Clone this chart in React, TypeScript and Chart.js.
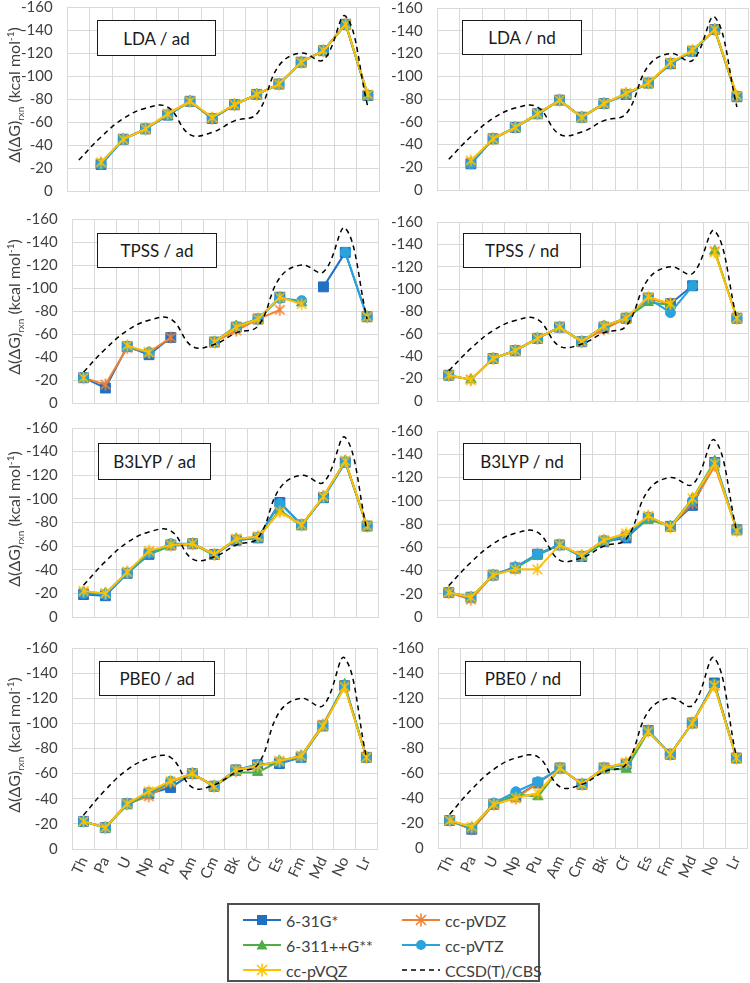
import React, { useEffect, useRef } from 'react';
import { Chart, registerables } from 'chart.js';
Chart.register(...registerables);

const FONT = 'Lato, "Open Sans", "DejaVu Sans", sans-serif';
const N = null;

const categories = ['Th', 'Pa', 'U', 'Np', 'Pu', 'Am', 'Cm', 'Bk', 'Cf', 'Es', 'Fm', 'Md', 'No', 'Lr'];
const Y_MIN = -160;
const Y_MAX = 0;
const Y_STEP = 20;

const seriesNames = ['6-31G*', 'cc-pVDZ', '6-311++G**', 'cc-pVTZ', 'cc-pVQZ'];
const refName = 'CCSD(T)/CBS';
const ccsd = [-27, -47, -63, -72, -73, -49, -51, -61, -67, -109, -120, -114, -152, -73];

// LDA / ad
const ldaAd631g = [N, -23, -45, -54, -66, -78, -63, -75, -84, -93, -112, -122, -145, -83];
const ldaAdVdz = [N, -24, -45, -54, -67, -78, -63, -75, -84, -93, -112, -122, -145, -83];
const ldaAd6311 = [N, -24, -45, -54, -66, -78, -63, -75, -84, -93, -112, -122, -145, -83];
const ldaAdVtz = [N, -23, -45, -54, -66, -78, -63, -75, -84, -93, -112, -122, -145, -83];
const ldaAdVqz = [N, -25, -45, -54, -67, -78, -64, -75, -84, -93, -112, -122, -145, -84];
// LDA / nd
const ldaNd631g = [N, -23, -45, -55, -67, -79, -64, -76, -84, -94, -111, -122, -141, -82];
const ldaNdVdz = [N, -24, -45, -55, -67, -79, -64, -76, -85, -94, -111, -122, -141, -82];
const ldaNd6311 = [N, -24, -45, -55, -66, -79, -64, -76, -84, -94, -111, -122, -141, -82];
const ldaNdVtz = [N, -23, -45, -55, -67, -79, -64, -76, -84, -94, -111, -122, -141, -82];
const ldaNdVqz = [N, -26, -45, -55, -67, -79, -64, -76, -85, -94, -112, -123, -141, -83];
// TPSS / ad
const tpssAd631g = [-22, -13, -49, -42, -57, N, -53, -66, -73, -92, N, -101, -131, -75];
const tpssAdVdz = [-22, -16, -48, -44, -57, N, -53, -63, -73, -81, N, N, N, -75];
const tpssAd6311 = [-22, N, -49, -44, N, N, -53, -67, -73, -92, -87, N, N, -75];
const tpssAdVtz = [-22, N, -49, -44, N, N, -53, -66, -73, -91, -89, N, -131, -75];
const tpssAdVqz = [-22, N, -50, -44, N, N, -53, -66, -73, -92, -86, N, N, -75];
// TPSS / nd
const tpssNd631g = [-23, N, -38, -45, -56, -66, -53, -66, -74, -92, -87, -103, N, -74];
const tpssNdVdz = [-23, -19, -38, -45, -56, -66, -53, -64, -74, -92, -87, N, -134, -74];
const tpssNd6311 = [-23, -19, -38, -45, -56, -66, -53, -67, -74, -88, -86, N, -134, -74];
const tpssNdVtz = [-23, N, -38, -45, -56, -66, -53, -67, -74, -92, -79, -103, N, -74];
const tpssNdVqz = [-23, -19, -38, -45, -56, -66, -53, -67, -74, -93, -87, N, -133, -74];
// B3LYP / ad
const b3lypAd631g = [-19, -18, -37, -53, -61, -62, -53, -65, -67, -97, -78, -101, -131, -77];
const b3lypAdVdz = [-21, -20, -38, -55, -61, -62, -53, -66, -68, -90, -78, -102, -132, -77];
const b3lypAd6311 = [-21, -20, -37, -53, -60, -62, -52, -66, -67, -90, -77, -102, -132, -76];
const b3lypAdVtz = [-20, -19, -37, -54, -62, -62, -53, -65, -67, -96, -78, -101, -131, -77];
const b3lypAdVqz = [-22, -20, -38, -56, -61, -62, -53, -66, -68, -89, -78, -102, -132, -77];
// B3LYP / nd
const b3lypNd631g = [-21, -17, -36, -42, -54, -62, -52, -65, -68, -85, -78, -96, -133, -75];
const b3lypNdVdz = [-21, -15, -36, -43, -54, -62, -53, -66, -70, -86, -78, -98, -130, -75];
const b3lypNd6311 = [-21, -17, -36, -42, -53, -62, -52, -64, -70, -84, -78, -102, -134, -75];
const b3lypNdVtz = [-21, -17, -36, -43, -54, -62, -52, -66, -69, -86, -78, -100, -133, -75];
const b3lypNdVqz = [-21, -17, -36, -41, -41, -62, -53, -66, -72, -87, -77, -102, -132, -74];
// PBE0 / ad
const pbe0Ad631g = [-22, -17, -36, -44, -49, -60, -50, -63, -67, -68, -73, -98, -130, -73];
const pbe0AdVdz = [-22, -17, -36, -42, -53, -60, -50, -62, -66, -70, -74, -99, -130, -73];
const pbe0Ad6311 = [-22, -17, -35, -44, -53, -60, -50, -61, -61, -70, -74, -98, -131, -73];
const pbe0AdVtz = [-22, -17, -36, -45, -54, -60, -50, -63, -67, -69, -73, -98, -130, -73];
const pbe0AdVqz = [-22, -17, -36, -46, -54, -60, -50, -63, -66, -70, -74, -98, -129, -73];
// PBE0 / nd
const pbe0Nd631g = [-22, -15, -35, -41, -52, -64, -51, -64, -67, -94, -75, -100, -132, -72];
const pbe0NdVdz = [-22, -15, -35, -40, -52, -64, -51, -64, -68, -94, -75, -100, -130, -72];
const pbe0Nd6311 = [-22, -16, -35, -43, -41, -64, -51, -63, -63, -93, -75, -100, -131, -72];
const pbe0NdVtz = [-22, -16, -36, -45, -53, -64, -51, -64, -67, -94, -75, -100, -131, -72];
const pbe0NdVqz = [-22, -17, -35, -40, -44, -64, -51, -64, -68, -93, -75, -100, -130, -72];

const COLORS = ['#2170C4', '#F08030', '#4EAE48', '#2AA2DC', '#FFC000'];
const STYLES = ['rect', 'asterisk', 'triangle', 'circle', 'asterisk'];
const RADII = [7, 6, 6, 5, 6];

type PanelSpec = {
  title: string;
  series: (number | null)[][];
  x: number; y: number; w: number; h: number;
  box: [number, number, number, number];
  yTitle: boolean;
  xLabels: boolean;
};

const PANELS: PanelSpec[] = [
  { title: 'LDA / ad', series: [ldaAd631g, ldaAdVdz, ldaAd6311, ldaAdVtz, ldaAdVqz], x: 68, y: 7, w: 311, h: 184, box: [97, 20, 119, 36], yTitle: true, xLabels: false },
  { title: 'LDA / nd', series: [ldaNd631g, ldaNdVdz, ldaNd6311, ldaNdVtz, ldaNdVqz], x: 438, y: 8, w: 310, h: 182, box: [462, 20, 120, 35], yTitle: false, xLabels: false },
  { title: 'TPSS / ad', series: [tpssAd631g, tpssAdVdz, tpssAd6311, tpssAdVtz, tpssAdVqz], x: 73, y: 219, w: 305, h: 184, box: [97, 233, 120, 35], yTitle: true, xLabels: false },
  { title: 'TPSS / nd', series: [tpssNd631g, tpssNdVdz, tpssNd6311, tpssNdVtz, tpssNdVqz], x: 438, y: 222, w: 310, h: 179, box: [463, 233, 118, 35], yTitle: false, xLabels: false },
  { title: 'B3LYP / ad', series: [b3lypAd631g, b3lypAdVdz, b3lypAd6311, b3lypAdVtz, b3lypAdVqz], x: 73, y: 428, w: 305, h: 189, box: [98, 443, 113, 37], yTitle: true, xLabels: false },
  { title: 'B3LYP / nd', series: [b3lypNd631g, b3lypNdVdz, b3lypNd6311, b3lypNdVtz, b3lypNdVqz], x: 438, y: 431, w: 310, h: 186, box: [463, 443, 118, 37], yTitle: false, xLabels: false },
  { title: 'PBE0 / ad', series: [pbe0Ad631g, pbe0AdVdz, pbe0Ad6311, pbe0AdVtz, pbe0AdVqz], x: 73, y: 648, w: 305, h: 201, box: [99, 661, 116, 35], yTitle: true, xLabels: true },
  { title: 'PBE0 / nd', series: [pbe0Nd631g, pbe0NdVdz, pbe0Nd6311, pbe0NdVtz, pbe0NdVqz], x: 439, y: 648, w: 309, h: 200, box: [465, 661, 116, 35], yTitle: false, xLabels: true },
];

// Excel-like asterisk marker (x plus vertical bar), used as a Chart.js point style image
function makeAsterisk(color: string, r: number): HTMLCanvasElement {
  const s = r * 2 + 3;
  const c = document.createElement('canvas');
  c.width = s;
  c.height = s;
  const ctx = c.getContext('2d')!;
  const m = s / 2;
  const d = r * 0.8;
  ctx.strokeStyle = color;
  ctx.lineWidth = 1.6;
  ctx.lineCap = 'butt';
  ctx.beginPath();
  ctx.moveTo(m - d, m - d); ctx.lineTo(m + d, m + d);
  ctx.moveTo(m + d, m - d); ctx.lineTo(m - d, m + d);
  ctx.moveTo(m, m - r); ctx.lineTo(m, m + r);
  ctx.stroke();
  return c;
}

function buildConfig(spec: PanelSpec): any {
  const datasets: any[] = [];
  datasets.push({
    label: refName,
    data: ccsd,
    borderColor: '#000000',
    borderWidth: 1.5,
    borderDash: [5, 4],
    pointRadius: 0,
    tension: 0.4,
    fill: false,
  });
  for (let i = seriesNames.length - 1; i >= 0; i--) {
    const c = COLORS[i];
    const style = STYLES[i] === 'asterisk' ? makeAsterisk(c, RADII[i]) : STYLES[i];
    datasets.push({
      label: seriesNames[i],
      data: spec.series[i],
      borderColor: c,
      backgroundColor: c,
      borderWidth: 2,
      pointStyle: style,
      pointRadius: RADII[i],
      pointBackgroundColor: c,
      pointBorderColor: c,
      pointBorderWidth: 1,
      tension: 0,
      spanGaps: false,
      fill: false,
    });
  }
  return {
    type: 'line',
    data: { labels: categories, datasets },
    options: {
      animation: false,
      responsive: false,
      devicePixelRatio: 1,
      layout: { padding: 0 },
      plugins: { legend: { display: false }, tooltip: { enabled: false }, title: { display: false } },
      scales: {
        x: {
          type: 'category',
          offset: true,
          grid: { offset: true, color: '#D9D9D9', lineWidth: 1, drawTicks: false },
          border: { display: true, color: '#D9D9D9' },
          ticks: {
            display: spec.xLabels,
            autoSkip: false,
            maxRotation: 65,
            minRotation: 65,
            padding: 5,
            color: '#404040',
            font: { family: FONT, size: 15 },
          },
        },
        y: {
          reverse: true,
          min: Y_MIN,
          max: Y_MAX,
          grid: { color: '#D9D9D9', lineWidth: 1, drawTicks: false },
          border: { display: false },
          ticks: {
            stepSize: Y_STEP,
            padding: 15,
            color: '#404040',
            font: { family: FONT, size: 15 },
          },
        },
      },
    },
  };
}

function Panel({ spec }: { spec: PanelSpec }) {
  const ref = useRef<HTMLCanvasElement | null>(null);
  useEffect(() => {
    const canvas = ref.current!;
    const make = (w: number, h: number) => {
      canvas.width = w;
      canvas.height = h;
      canvas.style.width = w + 'px';
      canvas.style.height = h + 'px';
      return new Chart(canvas, buildConfig(spec));
    };
    let W = spec.w + 80;
    let H = spec.h + (spec.xLabels ? 60 : 24);
    let chart = make(W, H);
    let ca = chart.chartArea;
    const dw = Math.round(spec.w - (ca.right - ca.left));
    const dh = Math.round(spec.h - (ca.bottom - ca.top));
    if (dw !== 0 || dh !== 0) {
      chart.destroy();
      W += dw;
      H += dh;
      chart = make(W, H);
      ca = chart.chartArea;
    }
    canvas.style.left = Math.round(spec.x - ca.left) + 'px';
    canvas.style.top = Math.round(spec.y - ca.top) + 'px';
    return () => chart.destroy();
  }, []);
  return <canvas ref={ref} style={{ position: 'absolute', left: 0, top: 0 }} />;
}

function LegendSymbol({ idx }: { idx: number }) {
  if (idx === 5) {
    return (
      <svg width={40} height={14} style={{ display: 'block' }}>
        <line x1={1} y1={7} x2={39} y2={7} stroke="#000" strokeWidth={1.5} strokeDasharray="5 4" />
      </svg>
    );
  }
  const c = COLORS[idx];
  const s = STYLES[idx];
  let marker: any = null;
  if (s === 'rect') marker = <rect x={15} y={2} width={10} height={10} fill={c} />;
  else if (s === 'circle') marker = <circle cx={20} cy={7} r={5} fill={c} />;
  else if (s === 'triangle') marker = <polygon points="20,1.5 25.5,11.5 14.5,11.5" fill={c} />;
  else
    marker = (
      <g stroke={c} strokeWidth={1.6}>
        <line x1={15} y1={2} x2={25} y2={12} />
        <line x1={25} y1={2} x2={15} y2={12} />
        <line x1={20} y1={0.5} x2={20} y2={13.5} />
      </g>
    );
  return (
    <svg width={40} height={14} style={{ display: 'block' }}>
      <line x1={1} y1={7} x2={39} y2={7} stroke={c} strokeWidth={2} />
      {marker}
    </svg>
  );
}

function Legend() {
  const items = [
    { idx: 0, label: seriesNames[0], col: 0, row: 0 },
    { idx: 1, label: seriesNames[1], col: 1, row: 0 },
    { idx: 2, label: seriesNames[2], col: 0, row: 1 },
    { idx: 3, label: seriesNames[3], col: 1, row: 1 },
    { idx: 4, label: seriesNames[4], col: 0, row: 2 },
    { idx: 5, label: refName, col: 1, row: 2 },
  ];
  return (
    <div
      style={{
        position: 'absolute',
        left: 227,
        top: 903,
        width: 313,
        height: 79,
        border: '2px solid #505050',
        boxSizing: 'border-box',
        background: '#fff',
        zIndex: 3,
      }}
    >
      {items.map((it) => (
        <div
          key={it.label}
          style={{
            position: 'absolute',
            left: it.col === 0 ? 13 : 172,
            top: 4 + it.row * 25,
            height: 22,
            display: 'flex',
            alignItems: 'center',
            fontFamily: FONT,
            fontSize: 16,
            color: '#404040',
            whiteSpace: 'nowrap',
          }}
        >
          <LegendSymbol idx={it.idx} />
          <span style={{ marginLeft: 4 }}>{it.label}</span>
        </div>
      ))}
    </div>
  );
}

export default function App() {
  return (
    <div style={{ position: 'absolute', left: 0, top: 0, width: 750, height: 983, background: '#fff', overflow: 'hidden' }}>
      {PANELS.map((p) => (
        <Panel key={p.title} spec={p} />
      ))}
      {PANELS.map((p) => (
        <div
          key={'box' + p.title}
          style={{
            position: 'absolute',
            left: p.box[0],
            top: p.box[1],
            width: p.box[2],
            height: p.box[3],
            border: '1.5px solid #1a1a1a',
            boxSizing: 'border-box',
            background: '#fff',
            display: 'flex',
            alignItems: 'center',
            justifyContent: 'center',
            fontFamily: FONT,
            fontSize: 17,
            color: '#1a1a1a',
            zIndex: 2,
          }}
        >
          {p.title}
        </div>
      ))}
      {PANELS.filter((p) => p.yTitle).map((p) => (
        <div
          key={'yt' + p.title}
          style={{
            position: 'absolute',
            left: 15,
            top: p.y + p.h / 2 - 4,
            transform: 'translate(-50%, -50%) rotate(-90deg)',
            whiteSpace: 'nowrap',
            fontFamily: FONT,
            fontSize: 16,
            color: '#404040',
            zIndex: 2,
          }}
        >
          Δ(ΔG)<sub style={{ fontSize: 10 }}>rxn</sub> (kcal mol<sup style={{ fontSize: 10 }}>-1</sup>)
        </div>
      ))}
      <Legend />
    </div>
  );
}
